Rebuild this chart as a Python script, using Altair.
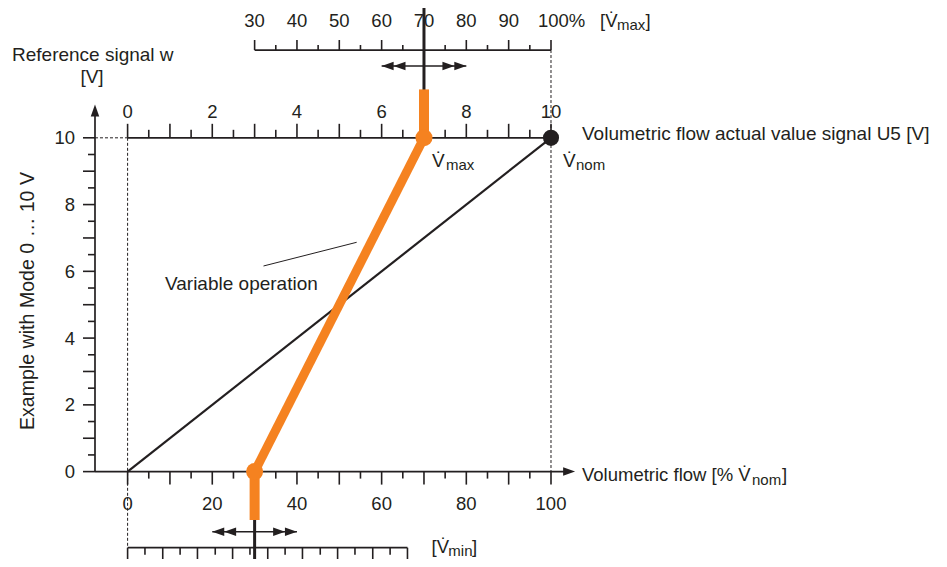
import altair as alt
import pandas as pd

# ---------------- data ----------------
# nominal characteristic: volumetric flow [% Vnom] vs. signal [V]
nominal_flow = [0, 100]
nominal_signal = [0, 10]
# variable operation: Vmin = 30 %, Vmax = 70 %
variable_flow = [30, 70]
variable_signal = [0, 10]
vnom_point = (100, 10)

# bottom axis (volumetric flow %)
flow_major_ticks = [0, 10, 20, 30, 40, 50, 60, 70, 80, 90, 100]
flow_minor_ticks = [5, 15, 25, 35, 45, 55, 65, 75, 85, 95]
flow_labels = [0, 20, 40, 60, 80, 100]
# left axis (reference signal w, V)
signal_major_ticks = [0, 1, 2, 3, 4, 5, 6, 7, 8, 9, 10]
signal_minor_ticks = [0.5, 1.5, 2.5, 3.5, 4.5, 5.5, 6.5, 7.5, 8.5, 9.5]
signal_labels = [0, 2, 4, 6, 8, 10]
# top axis (actual value signal U5, V) drawn on the flow positions
u5_label_pos = [0, 20, 40, 60, 80, 100]
u5_label_txt = ["0", "2", "4", "6", "8", "10"]
# Vmax adjustment scale (30 ... 100 %)
vmax_major = [30, 40, 50, 60, 70, 80, 90, 100]
vmax_minor = [35, 45, 55, 65, 75, 85, 95]
vmax_labels = [30, 40, 50, 60, 70, 80, 90]
# Vmin adjustment scale ticks (in flow %)
vmin_long = [0, 8.3, 16.5, 24.8, 33.1, 41.3, 49.6, 57.9, 66.1]
vmin_short = [4.1, 12.4, 20.7, 28.9, 37.2, 45.5, 53.7, 62.0]
# adjustment ranges (double arrows)
vmax_range = [60, 80]
vmin_range = [20, 40]

# ---------------- styling / geometry ----------------
W, H = 931, 551
X_DOM = [-28.247, 191.64]
Y_DOM = [-2.618, 13.889]
FONT = "Liberation Sans"
FS = 18.5
FS_BIG = 19
FS_SUB = 15
INK = "#231f20"
ORANGE = "#f58220"

X_LEFT = -7.7        # position of the vertical w axis
Y_TOPSCALE = 12.63   # Vmax scale baseline
Y_TOPARROW = 12.15
Y_BOTSCALE = -2.28   # Vmin scale baseline
Y_BOTARROW = -1.80
Y_ORANGE_TOP = 11.45
Y_ORANGE_BOT = -1.45
Y_ARROW_TIP = 11.0
X_ARROW_TIP = 105.7

xs = alt.Scale(domain=X_DOM, nice=False, zero=False)
ys = alt.Scale(domain=Y_DOM, nice=False, zero=False)


def X(f="x"):
    return alt.X(f"{f}:Q", scale=xs, axis=None)


def Y(f="y"):
    return alt.Y(f"{f}:Q", scale=ys, axis=None)


def segs(rows, **kw):
    df = pd.DataFrame(rows, columns=["x", "y", "x2", "y2"])
    return alt.Chart(df).mark_rule(**kw).encode(x=X(), y=Y(), x2="x2:Q", y2="y2:Q")


def vticks(xvals, ybase, length, width=1.6):
    df = pd.DataFrame({"x": xvals, "y": [ybase] * len(xvals)})
    return alt.Chart(df).mark_rule(color=INK, strokeWidth=width, y2Offset=length).encode(
        x=X(), y=Y(), y2="y:Q")


def hticks(yvals, xbase, length, width=1.6):
    df = pd.DataFrame({"y": yvals, "x": [xbase] * len(yvals)})
    return alt.Chart(df).mark_rule(color=INK, strokeWidth=width, x2Offset=length).encode(
        x=X(), y=Y(), x2="x:Q")


def texts(xvals, yvals, labels, size=FS, **kw):
    df = pd.DataFrame({"x": xvals, "y": yvals, "t": labels})
    props = dict(font=FONT, fontSize=size, color=INK, baseline="alphabetic", align="center")
    props.update(kw)
    return alt.Chart(df).mark_text(**props).encode(x=X(), y=Y(), text="t:N")


def heads(xvals, yvals, path, size=100):
    df = pd.DataFrame({"x": xvals, "y": yvals})
    return alt.Chart(df).mark_point(shape=path, filled=True, size=size, color=INK,
                                    opacity=1, strokeWidth=0).encode(x=X(), y=Y())


RIGHT = "M0,0 L-2.4,-0.85 L-2.4,0.85 Z"
LEFT = "M0,0 L2.4,-0.85 L2.4,0.85 Z"
UP = "M0,0 L-0.85,2.4 L0.85,2.4 Z"

layers = []

# dashed guide lines
layers.append(segs([(X_LEFT, 10, 0, 10), (0, 10, 0, Y_BOTSCALE), (100, Y_TOPSCALE, 100, 0)],
                   color=INK, strokeWidth=1, strokeDash=[3, 2]))
# axis lines
layers.append(segs([(X_LEFT, 0, X_LEFT, Y_ARROW_TIP - 0.2), (X_LEFT, 0, X_ARROW_TIP - 2, 0),
                    (0, 10, 100, 10), (30, Y_TOPSCALE, 100, Y_TOPSCALE),
                    (0, Y_BOTSCALE, 66.1, Y_BOTSCALE)],
                   color=INK, strokeWidth=1.7))
# ticks
layers += [
    hticks(signal_major_ticks, X_LEFT, -12),
    hticks(signal_minor_ticks, X_LEFT, -7),
    vticks(flow_major_ticks, 0, 13),
    vticks(flow_minor_ticks, 0, 7),
    vticks(flow_major_ticks, 10, -14),
    vticks(flow_minor_ticks, 10, -8),
    vticks(vmax_major, Y_TOPSCALE, -10),
    vticks(vmax_minor, Y_TOPSCALE, -5),
    vticks(vmin_long, Y_BOTSCALE, 14),
    vticks(vmin_short, Y_BOTSCALE, 7),
]
# axis arrowheads
layers.append(heads([X_ARROW_TIP], [0], RIGHT))
layers.append(heads([X_LEFT], [Y_ARROW_TIP], UP))

# nominal characteristic
nom_df = pd.DataFrame({"x": nominal_flow, "y": nominal_signal})
layers.append(alt.Chart(nom_df).mark_line(color=INK, strokeWidth=2.2).encode(x=X(), y=Y()))

# leader line of "Variable operation"
layers.append(segs([(32.1, 6.16, 54.1, 6.87)], color=INK, strokeWidth=1))

# black indicator lines through the adjustment scales
layers.append(segs([(variable_flow[1], 10, variable_flow[1], Y_DOM[1]),
                    (variable_flow[0], 0, variable_flow[0], Y_DOM[0])],
                   color=INK, strokeWidth=3))
# double arrows
layers.append(segs([(vmax_range[0], Y_TOPARROW, vmax_range[1], Y_TOPARROW),
                    (vmin_range[0], Y_BOTARROW, vmin_range[1], Y_BOTARROW)],
                   color=INK, strokeWidth=1.6))
layers.append(heads([vmax_range[0], vmax_range[0] + 2.8, vmin_range[0], vmin_range[0] + 2.8],
                    [Y_TOPARROW, Y_TOPARROW, Y_BOTARROW, Y_BOTARROW], LEFT))
layers.append(heads([vmax_range[1], vmax_range[1] - 2.8, vmin_range[1], vmin_range[1] - 2.8],
                    [Y_TOPARROW, Y_TOPARROW, Y_BOTARROW, Y_BOTARROW], RIGHT))

# variable operation (orange)
var_df = pd.DataFrame({"x": variable_flow, "y": variable_signal})
layers.append(alt.Chart(var_df).mark_line(color=ORANGE, strokeWidth=9).encode(x=X(), y=Y()))
layers.append(segs([(variable_flow[1], 10, variable_flow[1], Y_ORANGE_TOP),
                    (variable_flow[0], 0, variable_flow[0], Y_ORANGE_BOT)],
                   color=ORANGE, strokeWidth=10))
layers.append(alt.Chart(var_df).mark_circle(color=ORANGE, size=290, opacity=1).encode(x=X(), y=Y()))
vnom_df = pd.DataFrame({"x": [vnom_point[0]], "y": [vnom_point[1]]})
layers.append(alt.Chart(vnom_df).mark_circle(color=INK, size=260, opacity=1).encode(x=X(), y=Y()))

# ---------------- text ----------------
VD = "V\u0307"
layers += [
    texts(flow_labels, [0] * 6, [str(v) for v in flow_labels], dy=38),
    texts(u5_label_pos, [10] * 6, u5_label_txt, dy=-19.5),
    texts(vmax_labels, [Y_TOPSCALE] * 7, [str(v) for v in vmax_labels], dy=-22.7),
    texts([100], [Y_TOPSCALE], ["100%"], dy=-22.7, align="left", dx=-13),
    texts([X_LEFT] * 6, signal_labels, [str(v) for v in signal_labels], align="right", dx=-20, dy=6.5),
    texts([X_LEFT], [10], ["Reference signal w"], size=FS_BIG, align="left", dx=-83, dy=-76.8),
    texts([X_LEFT], [10], ["[V]"], size=FS_BIG, dx=-3, dy=-55),
    texts([-23.5], [5.11], ["Example with Mode 0 \u2026 10 V"], size=19.6, angle=270, baseline="middle"),
    texts([8.83], [5.44], ["Variable operation"], size=FS_BIG, align="left"),
    texts([70], [10], [VD], size=FS_BIG, align="left", dx=8, dy=29),
    texts([70], [10], ["max"], size=FS_SUB, align="left", dx=22, dy=32),
    texts([100], [10], [VD], size=FS_BIG, align="left", dx=12, dy=29),
    texts([100], [10], ["nom"], size=FS_SUB, align="left", dx=25, dy=32),
    texts([100], [10], ["Volumetric flow actual value signal U5 [V]"], size=FS_BIG,
          align="left", dx=31, dy=1.7),
    texts([100], [0], ["Volumetric flow [% " + VD], align="left", dx=31, dy=9.5),
    texts([100], [0], ["nom"], size=FS_SUB, align="left", dx=201, dy=13),
    texts([100], [0], ["]"], align="left", dx=231, dy=9.5),
    texts([0], [Y_BOTSCALE], ["[" + VD], align="left", dx=304, dy=5),
    texts([0], [Y_BOTSCALE], ["min"], size=FS_SUB, align="left", dx=320.7, dy=8),
    texts([0], [Y_BOTSCALE], ["]"], align="left", dx=344.5, dy=5),
    texts([100], [Y_TOPSCALE], ["[" + VD], align="left", dx=49, dy=-23),
    texts([100], [Y_TOPSCALE], ["max"], size=FS_SUB, align="left", dx=66, dy=-20),
    texts([100], [Y_TOPSCALE], ["]"], align="left", dx=94.5, dy=-23),
]

chart = alt.layer(*layers).properties(
    width=W, height=H, padding=0, autosize=alt.AutoSizeParams(type="none"),
    background="white",
).configure_view(stroke=None)

chart.save("out.html", embed_options={"renderer": "svg", "actions": False})
